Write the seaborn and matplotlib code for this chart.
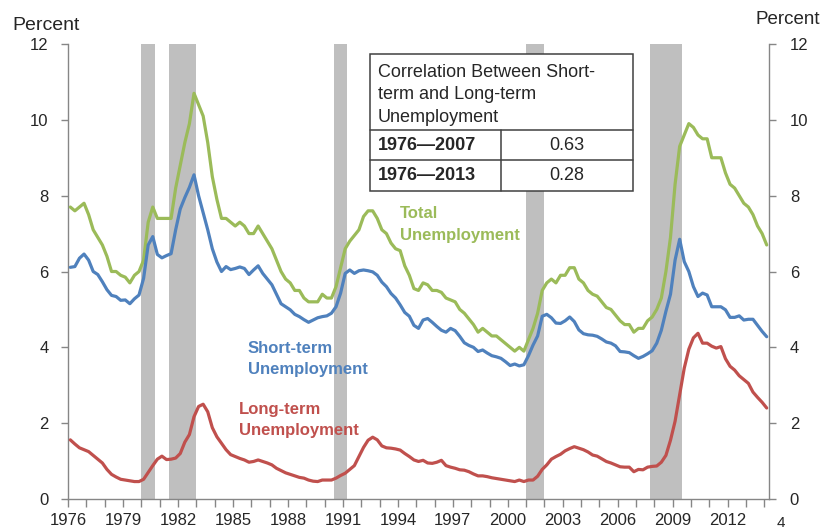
import matplotlib
matplotlib.use("Agg")
import matplotlib.pyplot as plt
import numpy as np
import pandas as pd
import seaborn as sns
from matplotlib.patches import Rectangle
from matplotlib.lines import Line2D

# quarterly unemployment rates, 1976Q1 - 2014Q1 (percent)
total = [
    7.7, 7.6, 7.7, 7.8,     # 1976
    7.5, 7.1, 6.9, 6.7,
    6.4, 6.0, 6.0, 5.9,
    5.85, 5.7, 5.9, 6.0,
    6.3, 7.3, 7.7, 7.4,     # 1980
    7.4, 7.4, 7.4, 8.2,
    8.8, 9.4, 9.9, 10.7,
    10.4, 10.1, 9.4, 8.5,
    7.9, 7.4, 7.4, 7.3,
    7.2, 7.3, 7.2, 7.0,     # 1985
    7.0, 7.2, 7.0, 6.8,
    6.6, 6.3, 6.0, 5.8,
    5.7, 5.5, 5.5, 5.3,
    5.2, 5.2, 5.2, 5.4,
    5.3, 5.3, 5.6, 6.1,     # 1990
    6.6, 6.8, 6.95, 7.1,
    7.45, 7.6, 7.6, 7.4,
    7.1, 7.0, 6.75, 6.6,
    6.55, 6.15, 5.9, 5.55,
    5.5, 5.7, 5.65, 5.5,    # 1995
    5.5, 5.45, 5.3, 5.25,
    5.2, 5.0, 4.9, 4.75,
    4.6, 4.4, 4.5, 4.4,
    4.3, 4.3, 4.2, 4.1,
    4.0, 3.9, 4.0, 3.9,     # 2000
    4.2, 4.5, 4.9, 5.5,
    5.7, 5.8, 5.7, 5.9,
    5.9, 6.1, 6.1, 5.8,
    5.7, 5.5, 5.4, 5.35,
    5.2, 5.05, 5.0, 4.85,   # 2005
    4.7, 4.6, 4.6, 4.4,
    4.5, 4.5, 4.7, 4.8,
    5.0, 5.3, 6.0, 6.9,
    8.3, 9.3, 9.6, 9.9,
    9.8, 9.6, 9.5, 9.5,     # 2010
    9.0, 9.0, 9.0, 8.6,
    8.3, 8.2, 8.0, 7.8,
    7.7, 7.5, 7.2, 7.0,
    6.7,                    # 2014Q1
]

short_term = [
    6.11, 6.13, 6.35, 6.46,  # 1976
    6.30, 6.00, 5.92, 5.73,
    5.52, 5.37, 5.34, 5.24,
    5.25, 5.15, 5.28, 5.38,
    5.82, 6.70, 6.92, 6.45,  # 1980
    6.36, 6.42, 6.47, 7.10,
    7.65, 7.95, 8.22, 8.55,
    8.00, 7.55, 7.10, 6.60,
    6.25, 6.00, 6.13, 6.05,
    6.08, 6.12, 6.08, 5.92,  # 1985
    6.04, 6.15, 5.95, 5.80,
    5.65, 5.40, 5.15, 5.07,
    4.99, 4.87, 4.81, 4.73,
    4.66, 4.72, 4.78, 4.81,
    4.83, 4.90, 5.07, 5.43,  # 1990
    5.95, 6.04, 5.95, 6.02,
    6.04, 6.02, 5.99, 5.90,
    5.72, 5.60, 5.42, 5.30,
    5.12, 4.92, 4.82, 4.58,
    4.50, 4.72, 4.76, 4.66,  # 1995
    4.55, 4.45, 4.40, 4.50,
    4.44, 4.29, 4.12, 4.05,
    4.00, 3.89, 3.93, 3.85,
    3.78, 3.75, 3.71, 3.62,
    3.52, 3.56, 3.51, 3.54,  # 2000
    3.78, 4.06, 4.30, 4.82,
    4.87, 4.78, 4.64, 4.63,
    4.70, 4.80, 4.68, 4.46,
    4.36, 4.33, 4.32, 4.29,
    4.22, 4.14, 4.11, 4.04,  # 2005
    3.89, 3.88, 3.86, 3.78,
    3.71, 3.76, 3.83, 3.91,
    4.11, 4.45, 4.95, 5.40,
    6.30, 6.85, 6.26, 6.00,
    5.60, 5.34, 5.43, 5.38,  # 2010
    5.07, 5.07, 5.07, 4.99,
    4.79, 4.79, 4.83, 4.72,
    4.74, 4.74, 4.58, 4.42,
    4.28,
]

long_term = [
    1.56, 1.45, 1.35, 1.30,  # 1976
    1.25, 1.15, 1.05, 0.95,
    0.78, 0.65, 0.58, 0.52,
    0.50, 0.48, 0.46, 0.46,
    0.52, 0.70, 0.88, 1.05,  # 1980
    1.13, 1.04, 1.05, 1.08,
    1.20, 1.50, 1.70, 2.17,
    2.44, 2.50, 2.30, 1.88,
    1.64, 1.47, 1.30, 1.17,
    1.12, 1.07, 1.03, 0.97,  # 1985
    0.99, 1.03, 0.99, 0.95,
    0.90, 0.81, 0.75, 0.69,
    0.65, 0.61, 0.57, 0.55,
    0.50, 0.47, 0.46, 0.50,
    0.50, 0.50, 0.55, 0.62,  # 1990
    0.68, 0.78, 0.88, 1.12,
    1.36, 1.55, 1.63, 1.56,
    1.40, 1.35, 1.34, 1.32,
    1.29, 1.20, 1.12, 1.03,
    0.99, 1.02, 0.95, 0.94,  # 1995
    0.97, 1.02, 0.88, 0.84,
    0.81, 0.77, 0.76, 0.72,
    0.66, 0.61, 0.61, 0.59,
    0.56, 0.54, 0.52, 0.50,
    0.48, 0.46, 0.50, 0.46,  # 2000
    0.50, 0.50, 0.60, 0.78,
    0.90, 1.05, 1.12, 1.18,
    1.27, 1.33, 1.38, 1.34,
    1.30, 1.24, 1.16, 1.13,
    1.06, 0.99, 0.95, 0.90,  # 2005
    0.85, 0.84, 0.84, 0.72,
    0.78, 0.77, 0.84, 0.86,
    0.87, 0.97, 1.15, 1.55,
    2.05, 2.75, 3.45, 3.95,
    4.25, 4.37, 4.11, 4.11,  # 2010
    4.03, 3.98, 4.02, 3.70,
    3.50, 3.40, 3.25, 3.15,
    3.05, 2.82, 2.68, 2.55,
    2.40,
]

# NBER recessions (start, end) as decimal years
rec_start = [1980.0, 1981.5, 1990.5, 2001.0, 2007.75]
rec_end = [1980.75, 1983.0, 1991.25, 2002.0, 2009.5]

table_rows = [("1976\u20142007", "0.63"), ("1976\u20142013", "0.28")]

GREEN = "#9BBB59"
BLUE = "#4F81BD"
RED = "#C0504D"
AXIS = "#868686"

quarters = 1976.125 + np.arange(len(total)) / 4
df = pd.DataFrame({"x": quarters, "total": total,
                   "short": short_term, "long": long_term})

sns.set_style("white")
plt.rcParams["font.family"] = ["Liberation Sans", "DejaVu Sans"]

W, H = 828, 531
fig = plt.figure(figsize=(W / 100, H / 100), dpi=100)
ax = fig.add_axes([68 / W, 32 / H, (769 - 68) / W, 455 / H])

for s, e in zip(rec_start, rec_end):
    ax.axvspan(s, e, color="#BFBFBF", lw=0, zorder=1)

sns.lineplot(data=df, x="x", y="total", color=GREEN, lw=2.3, ax=ax, zorder=3)
sns.lineplot(data=df, x="x", y="short", color=BLUE, lw=2.3, ax=ax, zorder=3)
sns.lineplot(data=df, x="x", y="long", color=RED, lw=2.3, ax=ax, zorder=3)

ax.set_xlim(1976, 2014.25)
ax.set_ylim(0, 12)
years = list(range(1976, 2015))
ax.set_xticks(years)
ax.set_xticklabels([str(y) if (y - 1976) % 3 == 0 else "" for y in years])
ax.set_yticks(range(0, 13, 2))
ax.set_xlabel("")
ax.set_ylabel("")
ax.tick_params(axis="x", bottom=True, length=6, width=1, color=AXIS,
               labelsize=12, pad=4)
ax.tick_params(axis="y", left=True, length=5, width=1, color=AXIS,
               labelsize=12, pad=9)
for side in ["top", "right"]:
    ax.spines[side].set_visible(False)
for side in ["left", "bottom"]:
    ax.spines[side].set_color(AXIS)
    ax.spines[side].set_linewidth(1)

ax2 = ax.twinx()
ax2.set_ylim(0, 12)
ax2.set_yticks(range(0, 13, 2))
ax2.tick_params(axis="y", right=True, length=5, width=1, color=AXIS,
                labelsize=12, pad=10)
for side in ["top", "left", "bottom"]:
    ax2.spines[side].set_visible(False)
ax2.spines["right"].set_color(AXIS)
ax2.spines["right"].set_linewidth(1)

# series labels
lab = dict(fontweight="bold", fontsize=12, va="top", ha="left", linespacing=1.55)
ax.text(1994.1, 7.72, "Total\nUnemployment", color=GREEN, **lab)
ax.text(1985.8, 4.18, "Short-term\nUnemployment", color=BLUE, **lab)
ax.text(1985.32, 2.57, "Long-term\nUnemployment", color=RED, **lab)

fig.text(46 / W, 1 - 25 / H, "Percent", ha="center", va="center", fontsize=14)
fig.text(788 / W, 1 - 19 / H, "Percent", ha="center", va="center", fontsize=13.5)
fig.text(781 / W, 1 - 523 / H, "4", ha="center", va="center", fontsize=11)


# correlation table (figure pixel coordinates)
def fx(x):
    return x / W


def fy(y):
    return 1 - y / H


x0, x1, xm = 370, 633, 501.5
y0, y1, y2, y3 = 54, 129.5, 160.5, 191
lc = "#404040"
fig.patches.append(Rectangle((fx(x0), fy(y3)), fx(x1) - fx(x0), fy(y0) - fy(y3),
                             transform=fig.transFigure, facecolor="white",
                             edgecolor=lc, lw=1.1, zorder=5))
for yy in (y1, y2):
    fig.lines.append(Line2D([fx(x0), fx(x1)], [fy(yy), fy(yy)],
                            transform=fig.transFigure, color=lc, lw=1.1, zorder=6))
fig.lines.append(Line2D([fx(xm), fx(xm)], [fy(y1), fy(y3)],
                        transform=fig.transFigure, color=lc, lw=1.1, zorder=6))
fig.text(fx(378), fy(64), "Correlation Between Short-\nterm and Long-term\nUnemployment",
         ha="left", va="top", fontsize=13, linespacing=1.42, zorder=7)
for (period, corr), yc in zip(table_rows, [145, 176]):
    fig.text(fx(378), fy(yc), period, ha="left", va="center", fontsize=13,
             fontweight="bold", zorder=7)
    fig.text(fx(567), fy(yc), corr, ha="center", va="center", fontsize=13, zorder=7)

fig.savefig("out.png", dpi=100)
